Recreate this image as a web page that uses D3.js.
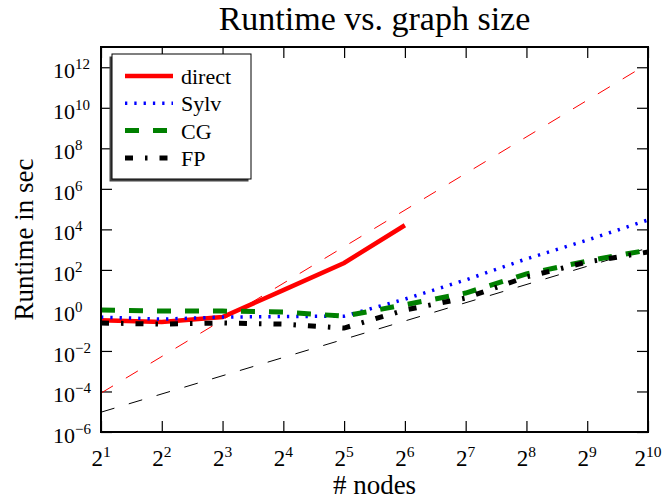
<!DOCTYPE html>
<html>
<head>
<meta charset="utf-8">
<script src="https://cdn.jsdelivr.net/npm/d3@7"></script>
<style>
  body { margin: 0; background: #fff; }
  svg text { font-family: "Liberation Serif", "DejaVu Serif", serif; fill: #000; }
</style>
</head>
<body>
<svg id="chart" width="662" height="501"></svg>
<script>
// values (runtime in seconds)
const nodes = [2, 4, 8, 16, 32, 64, 128, 256, 512, 1024];
const direct = [0.33, 0.27, 0.47, 10, 220, 16000];
const sylv = [0.47, 0.37, 0.47, 0.5, 0.52, 3.6, 32, 350, 2950, 29000];
const cg = [1.05, 0.93, 0.93, 0.83, 0.52, 1.9, 7.2, 63, 275, 950];
const fp = [0.24, 0.21, 0.24, 0.21, 0.135, 1.05, 4.1, 45, 245, 760];
// thin dashed guide lines, endpoints only
const guideNodes = [2, 1024];
const guideDirect = [8.3e-5, 1.5e12];
const guideIter = [9.5e-6, 1200];

const xTickExp = [1, 2, 3, 4, 5, 6, 7, 8, 9, 10];
const yTickExp = [-6, -4, -2, 0, 2, 4, 6, 8, 10, 12];

const margin = { top: 47, right: 14, bottom: 69, left: 101 };
const width = 662 - margin.left - margin.right;
const height = 501 - margin.top - margin.bottom;

const svg = d3.select('#chart');
const g = svg.append('g')
    .attr('transform', `translate(${margin.left},${margin.top})`);

const xScale = d3.scaleLog().base(2)
    .domain([2, 1024])
    .range([0, width]);
const yScale = d3.scaleLog()
    .domain([1e-6, 1e13])
    .range([height, 0]);

g.append('clipPath').attr('id', 'plot-clip')
    .append('rect')
    .attr('width', width)
    .attr('height', height);

// ticks on all four sides, pointing inward
const xTicks = xTickExp.map(e => Math.pow(2, e));
const yTicks = yTickExp.map(e => Math.pow(10, e));

const tickStyle = sel => {
    sel.select('.domain').remove();
    sel.selectAll('.tick line').attr('stroke', '#000').attr('stroke-width', 1.2);
};

g.append('g')
    .attr('transform', `translate(0,${height})`)
    .call(d3.axisBottom(xScale).tickValues(xTicks).tickSize(-11).tickFormat(''))
    .call(tickStyle);
g.append('g')
    .call(d3.axisTop(xScale).tickValues(xTicks).tickSize(-11).tickFormat(''))
    .call(tickStyle);
g.append('g')
    .call(d3.axisLeft(yScale).tickValues(yTicks).tickSize(-11).tickFormat(''))
    .call(tickStyle);
g.append('g')
    .attr('transform', `translate(${width},0)`)
    .call(d3.axisRight(yScale).tickValues(yTicks).tickSize(-11).tickFormat(''))
    .call(tickStyle);

// tick labels with superscripts
const xLab = g.append('g').selectAll('text')
    .data(xTickExp)
    .join('text')
    .attr('x', d => xScale(Math.pow(2, d)))
    .attr('y', height + 34)
    .attr('text-anchor', 'middle')
    .style('font-size', '23px');
xLab.append('tspan').text('2');
xLab.append('tspan').attr('dy', -9).style('font-size', '15.5px').text(d => d);

const yLab = g.append('g').selectAll('text')
    .data(yTickExp)
    .join('text')
    .attr('x', -48)
    .attr('y', d => yScale(Math.pow(10, d)) + 11)
    .attr('text-anchor', 'start')
    .style('font-size', '22px');
yLab.append('tspan').text('10');
yLab.append('tspan').attr('dy', -9).style('font-size', '15px')
    .text(d => d < 0 ? '\u2212' + (-d) : d);

// curves
const line = d3.line()
    .x(d => xScale(d[0]))
    .y(d => yScale(d[1]));

const plot = g.append('g').attr('clip-path', 'url(#plot-clip)');

const series = [
    { name: 'direct', values: direct, color: '#ff0000', width: 4.5, dash: null },
    { name: 'Sylv', values: sylv, color: '#0000ff', width: 3.5, dash: '2.3,7' },
    { name: 'CG', values: cg, color: '#008000', width: 5, dash: '14,14' },
    { name: 'FP', values: fp, color: '#000000', width: 5, dash: '8,12,2.5,12' }
];

plot.append('path')
    .datum(d3.zip(guideNodes, guideDirect))
    .attr('d', line)
    .attr('fill', 'none')
    .attr('stroke', '#ff0000')
    .attr('stroke-width', 1)
    .attr('stroke-dasharray', '14,15');

plot.append('path')
    .datum(d3.zip(guideNodes, guideIter))
    .attr('d', line)
    .attr('fill', 'none')
    .attr('stroke', '#000')
    .attr('stroke-width', 1)
    .attr('stroke-dasharray', '14,15');

series.forEach(s => {
    plot.append('path')
        .datum(d3.zip(nodes, s.values))
        .attr('d', line)
        .attr('fill', 'none')
        .attr('stroke', s.color)
        .attr('stroke-width', s.width)
        .attr('stroke-dasharray', s.dash);
});

// frame
g.append('rect')
    .attr('width', width)
    .attr('height', height)
    .attr('fill', 'none')
    .attr('stroke', '#000')
    .attr('stroke-width', 2);

// legend with a drop shadow
const legend = g.append('g').attr('transform', 'translate(11,7)');
legend.append('rect')
    .attr('x', -2.5).attr('y', 2.5)
    .attr('width', 139).attr('height', 125)
    .attr('fill', '#444');
legend.append('rect')
    .attr('width', 139).attr('height', 125)
    .attr('fill', '#fff')
    .attr('stroke', '#000')
    .attr('stroke-width', 1);

const rows = legend.selectAll('.row')
    .data(series)
    .join('g')
    .attr('class', 'row')
    .attr('transform', (d, i) => `translate(0,${22 + i * 27.3})`);
rows.append('line')
    .attr('x1', 13).attr('x2', 61)
    .attr('stroke', d => d.color)
    .attr('stroke-width', d => d.width)
    .attr('stroke-dasharray', d => d.dash);
rows.append('text')
    .attr('x', 69)
    .attr('y', 8)
    .style('font-size', '22px')
    .text(d => d.name);

// titles
svg.append('text')
    .attr('x', margin.left + width / 2)
    .attr('y', 30)
    .attr('text-anchor', 'middle')
    .style('font-size', '34px')
    .text('Runtime vs. graph size');

svg.append('text')
    .attr('x', margin.left + width / 2)
    .attr('y', 494)
    .attr('text-anchor', 'middle')
    .style('font-size', '27px')
    .text('# nodes');

svg.append('text')
    .attr('transform', `translate(33,${margin.top + height / 2}) rotate(-90)`)
    .attr('text-anchor', 'middle')
    .style('font-size', '27px')
    .text('Runtime in sec');
</script>
</body>
</html>
